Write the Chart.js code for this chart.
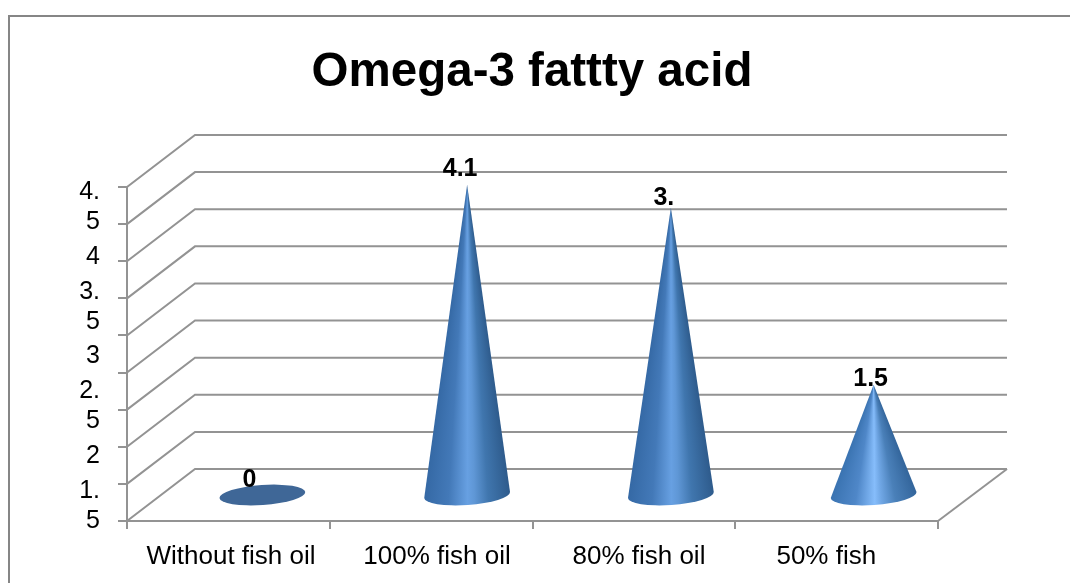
<!DOCTYPE html>
<html>
<head>
<meta charset="utf-8">
<style>
  html, body { margin: 0; padding: 0; background: #fff; }
  #wrap { position: relative; width: 1070px; height: 583px; overflow: hidden; }
</style>
<script src="https://cdn.jsdelivr.net/npm/chart.js@4"></script>
</head>
<body>
<div id="wrap"><canvas id="chart" width="1070" height="583"></canvas></div>
<script>
// Series
const categories = ['Without fish oil', '100% fish oil', '80% fish oil', '50% fish'];
const values = [0, 4.1, 3.8, 1.5];
const valueLabels = ['0', '4.1', '3.', '1.5'];

// Axis text: the value labels wrap inside a narrow column
const gridValues = [0, 0.5, 1, 1.5, 2, 2.5, 3, 3.5, 4, 4.5];
const yLabelValues = [4.5, 4, 3.5, 3, 2.5, 2, 1.5];
const yLabelLines = [['4.', '5'], ['4'], ['3.', '5'], ['3'], ['2.', '5'], ['2'], ['1.', '5']];
const xLabelCentres = [0.513, 1.529, 2.525, 3.449];

// Depth of the box the cones stand in
const DEPTH_X = 68, DEPTH_Y = 52;
const GRID = '#939393';

// Horizontal placement of each cone inside the floor, and label nudges from the tip
const coneShift = [34, 36, 37, 37];
const labelNudge = [[-13, -20], [-7, -16], [-7, -10], [-3, -6]];

// Shading per cone, left edge to right edge
const coneShades = [
  null,
  ['#3569a5', '#4379b8', '#67a0e2', '#5f97d6', '#4076ae', '#2e5b8c'],
  ['#3569a5', '#4379b8', '#67a0e2', '#5f97d6', '#4076ae', '#2e5b8c'],
  ['#3a73b1', '#4f87c8', '#86bdfb', '#6fa6e4', '#4a80b9', '#33659b']
];
const shadeStops = [0, 0.28, 0.5, 0.58, 0.74, 1];

const CONE_RX = 43, CONE_RY = 10, CONE_TILT = -4 * Math.PI / 180, BASE_LIFT = 5;

function drawBox(chart) {
  const { ctx, chartArea: a, scales } = chart;
  ctx.save();
  ctx.strokeStyle = GRID;
  ctx.lineWidth = 2;
  gridValues.forEach(v => {
    const y = scales.y.getPixelForValue(v);
    ctx.beginPath();
    ctx.moveTo(a.left, y);
    ctx.lineTo(a.left + DEPTH_X, y - DEPTH_Y);
    ctx.lineTo(a.right + DEPTH_X + 1, y - DEPTH_Y);
    ctx.stroke();
  });
  ctx.beginPath();
  ctx.moveTo(a.right, a.bottom);
  ctx.lineTo(a.right + DEPTH_X + 1, a.bottom - DEPTH_Y);
  ctx.stroke();
  ctx.restore();
}

function drawFrame(chart) {
  const { ctx, width, height } = chart;
  ctx.save();
  ctx.strokeStyle = '#868686';
  ctx.lineWidth = 2;
  ctx.beginPath();
  ctx.moveTo(9, height);
  ctx.lineTo(9, 16);
  ctx.lineTo(width, 16);
  ctx.stroke();
  ctx.restore();
}

function drawCone(ctx, cx, cy, tipY, shades) {
  if (!shades) {
    ctx.fillStyle = '#3f6797';
    ctx.beginPath();
    ctx.ellipse(cx, cy, CONE_RX, CONE_RY, CONE_TILT, 0, Math.PI * 2);
    ctx.fill();
    return;
  }
  const dx = CONE_RX * Math.cos(CONE_TILT), dy = CONE_RX * Math.sin(CONE_TILT);
  const left = [cx - dx, cy - dy], right = [cx + dx, cy + dy];
  const rightAngle = Math.atan2(right[1] - tipY, right[0] - cx);
  const leftAngle = Math.atan2(left[1] - tipY, left[0] - cx);

  // Shade by angle round the tip so the highlight narrows towards the point
  const sweep = leftAngle - rightAngle;
  const grad = ctx.createConicGradient(rightAngle - 0.02, cx, tipY);
  const frac = a => (a + 0.02) / (Math.PI * 2);
  shadeStops.forEach((s, i) => grad.addColorStop(frac(sweep * (1 - s)), shades[i]));
  grad.addColorStop(Math.min(1, frac(sweep) + 0.02), shades[0]);
  grad.addColorStop(1, shades[0]);

  ctx.fillStyle = grad;
  ctx.beginPath();
  ctx.moveTo(cx, tipY);
  ctx.lineTo(right[0], right[1]);
  ctx.ellipse(cx, cy, CONE_RX, CONE_RY, CONE_TILT, 0, Math.PI);
  ctx.closePath();
  ctx.fill();
}

const conePlugin = {
  id: 'cones',
  beforeDraw(chart) {
    drawFrame(chart);
    drawBox(chart);
  },
  beforeDatasetDraw(chart, args) {
    const { ctx } = chart;
    const meta = chart.getDatasetMeta(args.index);
    ctx.save();
    meta.data.forEach((bar, i) => {
      const { x, y, base } = bar.getProps(['x', 'y', 'base'], true);
      drawCone(ctx, x + coneShift[i], base - BASE_LIFT, y, coneShades[i]);
    });
    ctx.fillStyle = '#000';
    ctx.font = 'bold 25px "Liberation Sans", Arial, sans-serif';
    ctx.textAlign = 'center';
    ctx.textBaseline = 'middle';
    meta.data.forEach((bar, i) => {
      const { x, y } = bar.getProps(['x', 'y'], true);
      ctx.fillText(valueLabels[i], x + coneShift[i] + labelNudge[i][0], y + labelNudge[i][1]);
    });
    ctx.restore();
    return false;
  }
};

const fontFamily = '"Liberation Sans", Arial, sans-serif';
const tickLine = { color: GRID, lineWidth: 2 };

new Chart(document.getElementById('chart'), {
  type: 'bar',
  data: {
    labels: categories,
    datasets: [{ label: 'Omega-3 fattty acid', data: values, yAxisID: 'yCone', xAxisID: 'x' }]
  },
  plugins: [conePlugin],
  options: {
    responsive: false,
    animation: false,
    layout: { padding: { top: 0, left: 0, right: 6, bottom: 0 } },
    plugins: {
      legend: { display: false },
      tooltip: { enabled: false },
      title: {
        display: true,
        text: 'Omega-3 fattty acid',
        color: '#000',
        font: { family: fontFamily, size: 47.5, weight: 'bold', lineHeight: 1.2 },
        padding: { top: 44, bottom: 86 }
      }
    },
    scales: {
      x: {
        type: 'category',
        position: 'bottom',
        offset: true,
        grid: { display: true, offset: true, drawOnChartArea: false, drawTicks: true, tickLength: 8, ...tickLine },
        border: { display: true, color: GRID, width: 2 },
        ticks: { display: false },
        afterFit(s) { s.height = 8; }
      },
      xLabels: {
        type: 'linear',
        position: 'bottom',
        offset: false,
        min: 0,
        max: 4,
        grid: { display: false, drawTicks: false },
        border: { display: false },
        afterBuildTicks(s) { s.ticks = xLabelCentres.map(v => ({ value: v })); },
        ticks: {
          autoSkip: false,
          maxRotation: 0,
          minRotation: 0,
          color: '#000',
          font: { family: fontFamily, size: 26 },
          padding: 12,
          callback: (v, i) => categories[i]
        },
        afterFit(s) { s.height = 54; }
      },
      y: {
        type: 'linear',
        position: 'left',
        min: 0,
        max: 4.5,
        afterBuildTicks(s) { s.ticks = gridValues.map(v => ({ value: v })); },
        grid: { display: true, drawOnChartArea: false, drawTicks: true, tickLength: 9, ...tickLine },
        border: { display: true, color: GRID, width: 2 },
        ticks: { display: false, autoSkip: false },
        afterFit(s) { s.width = 9; }
      },
      yLabels: {
        type: 'linear',
        position: 'left',
        min: 1.3495,
        max: 4.7007,
        grid: { display: false, drawTicks: false },
        border: { display: false },
        afterBuildTicks(s) { s.ticks = yLabelValues.map(v => ({ value: v })); },
        ticks: {
          autoSkip: false,
          color: '#000',
          font: { family: fontFamily, size: 25, lineHeight: 1.2 },
          padding: 18,
          callback: (v, i) => yLabelLines[i]
        },
        afterFit(s) { s.width = 118; }
      },
      // Keeps the back wall of the box inside the canvas on the right
      yGap: {
        type: 'linear',
        position: 'right',
        grid: { display: false, drawTicks: false },
        border: { display: false },
        ticks: { display: false },
        afterFit(s) { s.width = 126; }
      },
      // Heights of the cones, measured from the middle of the floor
      yCone: {
        type: 'linear',
        display: false,
        position: 'left',
        min: -0.273,
        max: 4.07
      }
    }
  }
});
</script>
</body>
</html>
